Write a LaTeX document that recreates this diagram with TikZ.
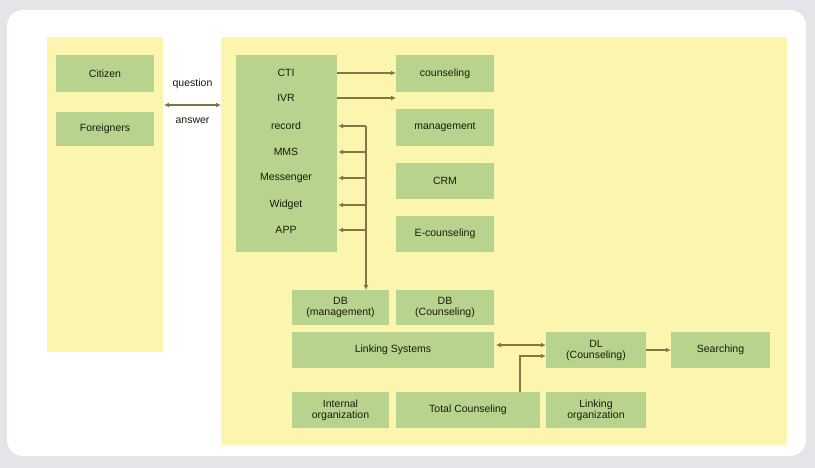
\documentclass[tikz,border=0pt]{standalone}
\usepackage{fontspec}
\setmainfont{Liberation Sans}
\usetikzlibrary{arrows.meta,calc}
\definecolor{bggray}{HTML}{E4E5E8}
\definecolor{panelyellow}{HTML}{FCF5AE}
\definecolor{boxgreen}{HTML}{B8D38E}
\definecolor{arrowcol}{HTML}{857545}
\definecolor{txtcol}{HTML}{151D0C}
\tikzset{
  panel/.style={fill=panelyellow, draw=none},
  gbox/.style={fill=boxgreen, draw=none, text=txtcol, align=center, inner sep=0pt,
    font=\fontsize{10.5}{11}\selectfont},
  lbl/.style={text=txtcol, inner sep=0pt, font=\fontsize{10.5}{11}\selectfont},
  conn/.style={draw=arrowcol, line width=1.5pt},
  arr/.style={conn, -{Latex[length=5pt,width=5pt]}},
  darr/.style={conn, {Latex[length=5pt,width=5pt]}-{Latex[length=5pt,width=5pt]}},
}
\newcommand{\gboxat}[6]{% name, x1, y1, x2, y2, text
  \node[gbox, minimum width={(#4-#2)*1pt}, minimum height={(#5-#3)*1pt}] (#1) at ({(#2+#4)/2},{(#3+#5)/2}) {#6};}
\begin{document}
\begin{tikzpicture}[x=1pt,y=-1pt]
\useasboundingbox (0,0) rectangle (815,468);
\fill[bggray] (0,0) rectangle (815,468);
\fill[white, rounded corners=16pt] (7,10) rectangle (806,456);
% panels
\fill[panel] (47,37) rectangle (163,352);
\fill[panel] (221,37) rectangle (787,445);
% left boxes
\gboxat{citizen}{56}{55}{154}{92}{Citizen}
\gboxat{foreign}{56}{112}{154}{146}{Foreigners}
% channel box
\gboxat{chan}{236}{55}{337}{252}{}
\node[lbl] (cti) at (286,73) {CTI};
\node[lbl] (ivr) at (286,98) {IVR};
\node[lbl] (rec) at (286,126) {record};
\node[lbl] (mms) at (286,152) {MMS};
\node[lbl] (msg) at (286,178) {Messenger};
\node[lbl] (wid) at (286,205) {Widget};
\node[lbl] (app) at (286,230) {APP};
% right column
\gboxat{couns}{396}{55}{494}{92}{counseling}
\gboxat{mgmt}{396}{109}{494}{146}{management}
\gboxat{crm}{396}{163}{494}{199}{CRM}
\gboxat{ecouns}{396}{216}{494}{252}{E-counseling}
% DB row
\gboxat{dbm}{292}{290}{389}{325}{DB\\(management)}
\gboxat{dbc}{396}{290}{494}{325}{DB\\(Counseling)}
\gboxat{link}{292}{332}{494}{368}{Linking Systems}
\gboxat{dl}{546}{332}{646}{368}{DL\\(Counseling)}
\gboxat{search}{671}{332}{770}{368}{Searching}
% bottom row
\gboxat{intorg}{292}{392}{389}{428}{Internal\\organization}
\gboxat{total}{396}{392}{540}{428}{Total Counseling}
\gboxat{linkorg}{546}{392}{646}{428}{Linking\\organization}
% question / answer
\coordinate (lpR) at (164,105);
\coordinate (rpL) at (221,105);
\draw[darr] (lpR) -- (rpL);
\node[lbl] (q) at (192.5,84) {question};
\node[lbl] (a) at (192.5,121) {answer};
% channel arrows
\draw[arr] (chan.east |- cti) -- (couns.west |- cti);
\coordinate (ivrend) at (396,98);
\draw[arr] (chan.east |- ivr) -- (ivrend);
\coordinate (vtop) at (366,126);
\coordinate (vbot) at (366,290);
\draw[conn] (vtop) -- ($(vbot)+(0,-6)$);
\draw[arr] ($(vbot)+(0,-8)$) -- (vbot);
\foreach \r in {rec,mms,msg,wid,app}{
  \draw[arr] (vtop |- \r) -- ([xshift=1pt]chan.east |- \r);
}
% linking
\draw[darr] (496,345) -- (dl.west |- 0,345);
\coordinate (tc) at (520,392);
\draw[arr] (tc) -- (520,356) -- (dl.west |- 0,356);
\draw[arr] (dl.east |- 0,350) -- (search.west |- 0,350);
\end{tikzpicture}
\end{document}
